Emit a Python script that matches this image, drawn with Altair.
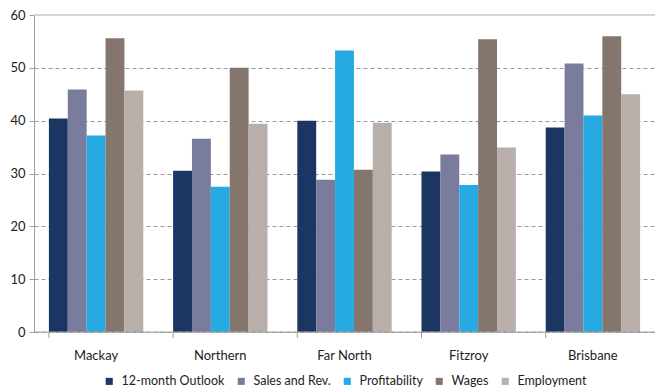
import altair as alt
import pandas as pd

regions = ["Mackay", "Northern", "Far North", "Fitzroy", "Brisbane"]
series = ["12-month Outlook", "Sales and Rev.", "Profitability", "Wages", "Employment"]
outlook = [40.4, 30.5, 40.0, 30.4, 38.7]
sales = [45.9, 36.6, 28.8, 33.6, 50.8]
profit = [37.2, 27.5, 53.3, 27.8, 41.0]
wages = [55.6, 50.0, 30.7, 55.4, 56.0]
employment = [45.7, 39.4, 39.6, 34.9, 45.0]
colors = ["#1c3664", "#7a7c9e", "#27a9e1", "#84766d", "#b8afaa"]

rows = []
for s, vals in zip(series, [outlook, sales, profit, wages, employment]):
    for r, v in zip(regions, vals):
        rows.append({"region": r, "series": s, "value": v})
df = pd.DataFrame(rows)

FONT = "Lato"

x = alt.X("region:N", sort=regions, title=None,
          scale=alt.Scale(paddingInner=0.24, paddingOuter=0.12),
          axis=alt.Axis(labelAngle=0, ticks=False, domain=False, labelFontSize=13,
                        labelColor="#222", labelFont=FONT, labelPadding=17))

bars = alt.Chart(df).mark_bar().encode(
    x=x,
    xOffset=alt.XOffset("series:N", sort=series, scale=alt.Scale(paddingInner=0, paddingOuter=0)),
    y=alt.Y("value:Q", title=None, scale=alt.Scale(domain=[0, 60], nice=False),
            axis=alt.Axis(values=[0, 10, 20, 30, 40, 50, 60], gridDash=[4, 3], gridColor="#9a9a9a",
                          gridWidth=1, domainColor="#a0a0a0", tickColor="#a0a0a0", tickSize=5,
                          labelFontSize=13, labelColor="#222", labelFont=FONT, labelPadding=4)),
    color=alt.Color("series:N", sort=series, scale=alt.Scale(domain=series, range=colors),
                    legend=alt.Legend(title=None, orient="none", direction="horizontal",
                                      legendX=69, legendY=360, symbolType="square", symbolSize=50,
                                      symbolStrokeWidth=0, labelFontSize=12.5, labelFont=FONT,
                                      labelColor="#222", columnPadding=10, labelOffset=6,
                                      padding=0)),
)

ticks = alt.Chart(pd.DataFrame({"region": regions})).mark_rule(color="#a0a0a0").encode(
    x=alt.X("region:N", sort=regions, bandPosition=0),
    y=alt.value(317), y2=alt.value(323),
)

base = alt.Chart(pd.DataFrame({"v": [0]})).mark_rule(color="#a0a0a0", strokeWidth=1).encode(
    y=alt.Y("v:Q"),
)
top = alt.Chart(pd.DataFrame({"v": [60]})).mark_rule(color="#d4d4d4", strokeWidth=2).encode(
    y=alt.Y("v:Q"),
)

chart = alt.layer(top, bars, base, ticks).properties(
    width=621, height=317,
    padding={"left": 34, "top": 15, "right": 0, "bottom": 58},
    autosize=alt.AutoSizeParams(type="none"),
).configure_view(stroke=None).configure(font=FONT)

chart.save("out.html", embed_options={"renderer": "svg", "actions": False})
